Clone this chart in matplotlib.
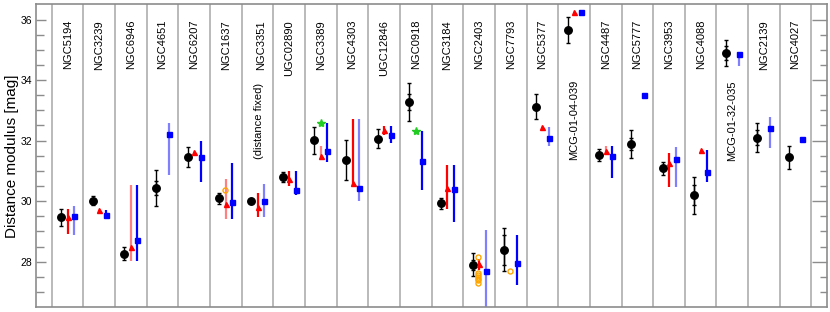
import matplotlib
matplotlib.use("Agg")
import matplotlib.pyplot as plt
import numpy as np

plt.rcParams['font.family'] = ['Liberation Sans', 'DejaVu Sans']

# ---------------- data ----------------
names = ["NGC5194", "NGC3239", "NGC6946", "NGC4651", "NGC6207", "NGC1637", "NGC3351",
         "UGC02890", "NGC3389", "NGC4303", "UGC12846", "NGC0918", "NGC3184", "NGC2403",
         "NGC7793", "NGC5377", "MCG-01-04-039", "NGC4487", "NGC5777", "NGC3953",
         "NGC4088", "MCG-01-32-035", "NGC2139", "NGC4027"]

# black: main estimate, outer (total) error and inner error (0 = none)
black_val = [29.47, 30.01, 28.26, 30.44, 31.47, 30.09, 30.00, 30.79, 32.01, 31.36, 32.06, 33.27,
             29.93, 27.90, 28.39, 33.12, 35.67, 31.52, 31.89, 31.08, 30.19, 34.90, 32.10, 31.45]
black_err = [0.28, 0.15, 0.21, 0.59, 0.33, 0.19, 0.0, 0.17, 0.44, 0.65, 0.31, 0.62,
             0.18, 0.37, 0.71, 0.42, 0.43, 0.20, 0.47, 0.22, 0.60, 0.44, 0.48, 0.38]
black_inner = [0.0, 0.0, 0.0, 0.23, 0.0, 0.0, 0.0, 0.0, 0.0, 0.0, 0.0, 0.27,
               0.0, 0.17, 0.50, 0.0, 0.0, 0.0, 0.20, 0.0, 0.33, 0.22, 0.25, 0.0]

# red triangles: value, lower bound, upper bound, light (1) / full (0) error colour
red_val = [29.49, 29.71, 28.48, np.nan, 31.61, 29.90, 29.81, 30.73, 31.49, 30.59, 32.35, np.nan,
           30.45, 27.92, np.nan, 32.46, 36.25, 31.66, np.nan, 31.27, 31.69, np.nan, np.nan, np.nan]
red_lo = [28.91, np.nan, 28.02, np.nan, np.nan, 29.40, 29.47, 30.50, 31.45, 30.53, 32.20, np.nan,
          29.74, 27.73, np.nan, np.nan, np.nan, 31.62, np.nan, 30.47, np.nan, np.nan, np.nan, np.nan]
red_hi = [29.74, np.nan, 30.52, np.nan, np.nan, 30.72, 30.26, 31.00, 31.83, 32.73, 32.49, np.nan,
          31.19, 28.08, np.nan, np.nan, np.nan, 31.83, np.nan, 31.58, np.nan, np.nan, np.nan, np.nan]
red_light = [0, 0, 1, 0, 0, 1, 0, 0, 1, 0, 0, 0, 0, 0, 0, 0, 0, 1, 0, 0, 0, 0, 0, 0]

# blue squares
blue_val = [29.51, 29.53, 28.71, 32.22, 31.45, 29.97, 29.99, 30.37, 31.65, 30.44, 32.20, 31.34,
            30.41, 27.69, 27.97, 32.10, 36.26, 31.50, 33.50, 31.38, 30.97, 34.88, 32.41, 32.04]
blue_lo = [28.87, 29.45, 28.02, 30.86, 30.63, 29.40, 29.47, 30.21, 31.30, 30.01, 31.91, 30.37,
           29.30, 26.40, 27.22, 31.82, np.nan, 30.76, np.nan, 30.47, 30.64, 34.47, 31.75, np.nan]
blue_hi = [29.84, 29.71, 30.52, 32.57, 31.98, 31.27, 30.55, 31.00, 32.59, 32.73, 32.49, 32.32,
           31.19, 29.05, 28.88, 32.46, np.nan, 31.83, np.nan, 31.80, 31.69, 34.88, 32.79, np.nan]
blue_light = [1, 0, 0, 1, 0, 0, 1, 0, 0, 1, 0, 0, 0, 1, 0, 1, 0, 0, 0, 1, 0, 1, 1, 0]

# green stars
star_idx = [8, 11]
star_val = [32.59, 32.32]

# orange open circles
orange_idx = [5, 13, 13, 13, 13, 13, 13, 13, 14]
orange_val = [30.37, 28.16, 27.62, 27.56, 27.50, 27.44, 27.38, 27.30, 27.68]

# ---------------- figure ----------------
fig = plt.figure(figsize=(8.30, 3.12), dpi=100)
ax = fig.add_axes([0.0434, 0.016, 0.9533, 0.9696])
n = len(names)
ax.set_xlim(-1, n)
ax.set_ylim(26.5, 36.5)

GRAY = '#8c8c8c'
for s in ax.spines.values():
    s.set_color(GRAY)
    s.set_linewidth(1.2)

for k in range(n + 1):
    ax.axvline(k - 0.5, color='#b4b4b4', lw=1.3, zorder=0)

x = np.arange(n)
dx = 0.205

# black
bv = np.array(black_val)
be = np.array(black_err)
bi = np.array(black_inner)
m = be > 0
ax.errorbar(x[m] - dx, bv[m], yerr=be[m], fmt='none', ecolor='black', elinewidth=1.0,
            capsize=1.6, capthick=1.0, zorder=3)
m2 = bi > 0
ax.errorbar(x[m2] - dx, bv[m2], yerr=bi[m2], fmt='none', ecolor='black', elinewidth=1.0,
            capsize=1.6, capthick=1.0, zorder=3)
ax.plot(x - dx, bv, 'o', color='black', ms=5.4, zorder=4, linestyle='none')

# red
rv = np.array(red_val, dtype=float)
rl = np.array(red_lo, dtype=float)
rh = np.array(red_hi, dtype=float)
for i in range(n):
    if not np.isnan(rl[i]):
        c = '#ff8080' if red_light[i] else '#ff0000'
        ax.vlines(x[i], rl[i], rh[i], color=c, lw=1.6, zorder=2)
ax.plot(x, rv, '^', color='#ff0000', ms=3.6, zorder=4, linestyle='none')

# blue
bbv = np.array(blue_val, dtype=float)
bl = np.array(blue_lo, dtype=float)
bh = np.array(blue_hi, dtype=float)
for i in range(n):
    if not np.isnan(bl[i]):
        c = '#8080ff' if blue_light[i] else '#0000ff'
        ax.vlines(x[i] + dx, bl[i], bh[i], color=c, lw=1.6, zorder=2)
ax.plot(x + dx, bbv, 's', color='#0000ff', ms=3.6, zorder=4, linestyle='none')

# stars and orange circles
ax.plot(np.array(star_idx), star_val, '*', color='#22cc22', ms=6, zorder=5, linestyle='none')
ax.plot(np.array(orange_idx) - 0.03, orange_val, 'o', mfc='none', mec='#ffa500', mew=1.0,
        ms=3.6, zorder=5, linestyle='none')

# labels
for i, nm in enumerate(names):
    if nm.startswith('MCG'):
        ytop = 0.75
    else:
        ytop = 0.949
    xo = 0.12 if nm == 'NGC3351' else 0.0
    ax.text(i + xo, ytop, nm, rotation=90, ha='center', va='top', fontsize=8,
            transform=ax.get_xaxis_transform())
ax.text(6 + 0.06, 0.74, '(distance fixed)', rotation=90, ha='center', va='top', fontsize=8,
        transform=ax.get_xaxis_transform())

ax.set_xticks([])
yt = [28, 30, 32, 34, 36]
ytm = np.arange(27, 36.5, 0.5)
ax.set_yticks(yt)
ax.set_yticks(ytm, minor=True)
ax.tick_params(axis='y', which='major', direction='in', length=7, width=1, color=GRAY,
               labelsize=7.5, pad=3)
ax.tick_params(axis='y', which='minor', direction='in', length=5.5, width=1, color=GRAY)
ax.set_ylabel('Distance modulus [mag]', fontsize=11, labelpad=1)

# right-hand ticks (longer majors)
ax2 = ax.twinx()
ax2.set_ylim(ax.get_ylim())
ax2.set_yticks(yt)
ax2.set_yticks(ytm, minor=True)
ax2.tick_params(axis='y', which='major', direction='in', length=10.5, width=1, color=GRAY,
                labelright=False)
ax2.tick_params(axis='y', which='minor', direction='in', length=5, width=1, color=GRAY)
for s in ax2.spines.values():
    s.set_visible(False)

fig.savefig('out.png', dpi=100)
